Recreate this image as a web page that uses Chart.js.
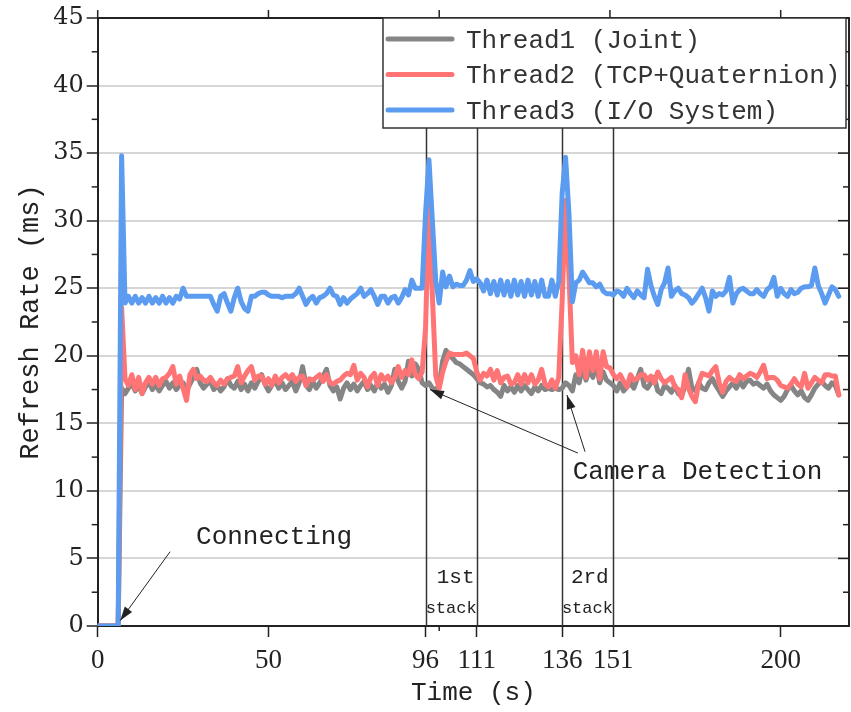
<!DOCTYPE html>
<html><head><meta charset="utf-8">
<script src="https://cdn.jsdelivr.net/npm/chart.js@4.4.1/dist/chart.umd.min.js"></script>
<style>html,body{margin:0;padding:0;background:#fff}canvas{display:block}</style>
</head><body>
<canvas id="c" width="851" height="712"></canvas>
<script>
// ---- data ----
const seriesNames = ['Thread1 (Joint)', 'Thread2 (TCP+Quaternion)', 'Thread3 (I/O System)'];
const xTickValues = [0, 50, 96, 111, 136, 151, 200];
const yTickValues = [0, 5, 10, 15, 20, 25, 30, 35, 40, 45];
const stackLines = [96, 111, 136, 151];

const thread1 = [
 0,0,0,0,0,0,0,17.6,17.2,17.6,
 18.0,17.4,17.8,17.2,17.7,18.1,17.5,17.9,17.4,17.8,
 18.1,17.6,18.0,17.5,17.8,18.0,17.4,17.9,18.4,19.0,
 18.0,17.6,17.9,18.1,17.5,17.8,17.4,17.7,18.3,17.8,
 17.6,18.1,17.5,17.9,17.4,18.0,17.6,18.1,18.6,17.9,
 17.4,17.8,18.2,17.6,18.0,17.5,17.8,18.1,17.4,18.0,
 19.2,17.8,17.5,18.1,17.6,18.0,18.5,19.0,17.8,17.4,
 17.7,16.8,17.6,18.0,17.5,17.9,17.4,17.8,18.1,17.5,
 17.8,17.4,18.0,17.6,17.9,17.3,17.8,19.0,18.1,17.6,
 18.1,19.6,18.5,19.4,19.0,18.0,17.8,18.0,17.6,17.5,
 17.8,19.6,20.4,20.0,19.8,19.5,19.4,19.2,19.0,18.8,
 18.6,18.3,18.0,17.9,17.7,17.8,17.5,17.3,17.0,17.8,
 17.4,17.7,17.3,17.8,17.4,17.8,17.5,17.2,17.7,17.4,
 17.8,17.5,17.6,17.5,17.6,17.5,17.6,18.0,17.8,17.4,
 18.6,18.0,19.2,18.2,19.0,18.4,19.5,18.0,18.8,18.2,
 18.0,17.8,17.4,18.0,17.4,17.7,18.0,17.6,18.3,19.0,
 17.8,17.6,18.0,18.4,17.4,17.2,17.8,17.6,17.3,17.8,
 17.2,17.0,17.8,19.0,17.6,17.4,18.0,17.6,17.5,18.0,
 18.3,17.8,17.4,17.0,17.4,17.7,18.0,17.6,18.1,17.7,
 18.1,18.2,17.9,18.0,17.8,17.6,17.9,17.4,17.1,16.9,
 16.7,17.0,17.5,17.8,17.4,17.1,17.4,16.9,16.7,17.1,
 17.6,17.9,18.1,17.8,17.6,18.0,17.8,17.1
];
const thread2 = [
 0,0,0,0,0,0,0,23.6,18.3,17.8,
 18.6,17.5,18.4,17.2,18.0,18.4,17.9,18.4,17.8,18.3,
 18.4,18.7,19.2,17.9,18.5,17.6,16.7,18.6,19.0,18.3,
 18.5,18.2,18.1,18.4,18.0,17.8,18.2,17.9,18.3,18.4,
 18.5,19.2,18.0,18.5,18.9,19.2,18.2,18.5,18.5,17.9,
 18.3,17.8,18.5,18.0,18.4,18.6,18.3,18.6,18.1,18.4,
 18.5,17.8,18.3,18.2,18.4,18.6,18.1,18.6,18.0,17.9,
 18.1,18.2,18.5,18.7,18.6,19.3,18.2,18.7,18.4,17.7,
 18.4,18.7,17.8,18.6,18.2,18.5,18.0,18.4,19.2,18.4,
 18.9,18.6,19.7,18.6,18.3,18.8,22.0,31.3,24.5,18.5,
 17.6,18.8,19.6,20.2,20.1,20.1,20.1,20.1,20.2,20.0,
 19.8,18.8,18.2,18.7,18.5,19.0,18.2,18.9,18.0,18.4,
 18.5,17.9,18.0,18.6,17.9,18.6,18.0,18.6,17.9,18.2,
 19.0,17.9,17.7,18.2,17.6,18.4,24.0,31.5,26.0,19.5,
 20.0,18.6,20.4,18.4,20.3,18.9,20.3,18.3,20.3,19.2,
 19.1,18.6,18.3,18.6,18.1,17.7,18.6,18.2,18.3,18.6,
 18.6,18.2,18.5,18.0,18.8,18.3,18.0,18.2,18.4,17.7,
 17.5,16.9,18.6,17.6,17.0,16.6,18.0,18.7,18.6,18.5,
 18.9,19.2,18.0,17.3,18.1,18.4,18.2,18.1,18.6,18.3,
 18.5,18.7,18.6,18.4,18.8,19.3,18.3,18.4,18.4,18.2,
 17.8,17.7,17.6,17.9,18.3,17.9,17.7,18.7,17.6,18.0,
 18.4,18.2,18.0,18.6,18.6,18.5,18.5,17.1
];
const thread3 = [
 0,0,0,0,0,0,0,34.8,23.9,24.4,
 23.9,24.4,23.9,24.3,23.9,24.4,23.9,24.3,23.9,24.4,
 23.9,24.3,23.9,24.4,24.2,25.0,24.4,24.4,24.4,24.4,
 24.4,24.4,24.4,24.4,23.8,23.3,24.4,24.6,23.9,23.3,
 24.3,25.0,24.0,23.5,23.3,24.4,24.4,24.6,24.7,24.7,
 24.5,24.4,24.4,24.4,24.3,24.4,24.4,24.4,24.6,25.0,
 24.4,23.8,24.2,24.4,23.9,24.3,24.4,24.6,25.0,24.5,
 24.4,23.8,24.3,23.9,24.2,24.4,24.6,25.0,24.4,24.6,
 24.9,24.4,23.8,24.4,24.4,23.9,24.3,24.4,23.9,24.3,
 24.9,24.5,25.6,25.0,25.0,25.0,30.5,34.5,30.0,25.5,
 23.9,26.2,25.1,25.9,25.1,25.3,25.2,25.2,25.6,26.3,
 25.5,25.7,25.4,24.8,25.6,24.6,25.5,24.5,25.6,24.5,
 25.5,24.4,25.6,24.5,25.5,24.4,25.6,24.5,25.5,24.4,
 25.6,24.4,24.4,25.6,24.4,25.5,32.0,34.7,30.5,24.0,
 25.4,25.6,26.2,25.8,25.4,25.4,25.1,25.3,24.8,24.6,
 24.6,24.5,24.8,24.7,24.4,25.0,24.6,24.3,24.8,24.5,
 24.3,26.4,25.2,24.4,23.8,24.9,25.4,26.5,24.4,24.8,
 25.0,24.6,24.5,24.3,23.9,24.2,24.6,25.0,24.3,23.3,
 24.8,24.4,24.6,24.5,24.8,25.8,23.9,24.6,24.9,25.0,
 24.8,24.6,24.6,24.9,24.6,24.4,24.9,25.1,25.8,24.4,
 25.0,24.6,24.4,24.9,24.6,24.7,25.0,25.1,25.1,25.2,
 26.5,25.2,24.6,23.9,24.5,25.1,24.9,24.4
];
const seriesColors = ['#858585', '#ff7474', '#5b9cf0'];

// time axis (one sample per second)
const timeSec = thread1.map((_, i) => i);
const toPoints = arr => arr.map((v, i) => ({x: timeSec[i], y: v}));

const INK = '#222';
const MONO = '"Liberation Mono", "DejaVu Sans Mono", monospace';

function arrow(ctx, x1, y1, x2, y2) {
  ctx.beginPath(); ctx.moveTo(x1, y1); ctx.lineTo(x2, y2); ctx.stroke();
  const a = Math.atan2(y2 - y1, x2 - x1), L = 14, W = 4.5;
  ctx.beginPath();
  ctx.moveTo(x2, y2);
  ctx.lineTo(x2 - L*Math.cos(a) + W*Math.sin(a), y2 - L*Math.sin(a) - W*Math.cos(a));
  ctx.lineTo(x2 - L*Math.cos(a) - W*Math.sin(a), y2 - L*Math.sin(a) + W*Math.cos(a));
  ctx.closePath(); ctx.fill();
}

const decor = {
  id: 'decor',
  beforeDatasetsDraw(chart) {
    const {ctx, chartArea: a, scales: {x}} = chart;
    ctx.save();
    ctx.strokeStyle = '#333'; ctx.lineWidth = 1.5;
    stackLines.forEach(v => {
      const px = Math.round(x.getPixelForValue(v)) + 0.5;
      ctx.beginPath(); ctx.moveTo(px, a.top); ctx.lineTo(px, a.bottom); ctx.stroke();
    });
    ctx.restore();
  },
  afterDatasetsDraw(chart) {
    const {ctx, chartArea: a, scales: {x, y}} = chart;
    ctx.save();
    // frame top + right
    ctx.strokeStyle = INK; ctx.lineWidth = 2;
    ctx.beginPath(); ctx.moveTo(a.left, a.top); ctx.lineTo(a.right, a.top); ctx.lineTo(a.right, a.bottom); ctx.stroke();
    // minor / mirrored ticks
    ctx.lineWidth = 1.5;
    for (let v = 2.5; v < 45; v += 5) {
      const py = y.getPixelForValue(v);
      ctx.beginPath(); ctx.moveTo(a.left - 6, py); ctx.lineTo(a.left, py); ctx.stroke();
      ctx.beginPath(); ctx.moveTo(a.right - 6, py); ctx.lineTo(a.right, py); ctx.stroke();
    }
    yTickValues.forEach(v => {
      const py = y.getPixelForValue(v);
      ctx.beginPath(); ctx.moveTo(a.right - 11, py); ctx.lineTo(a.right, py); ctx.stroke();
    });
    [0, 50, 100, 150, 200].forEach(v => {
      const px = x.getPixelForValue(v);
      ctx.beginPath(); ctx.moveTo(px, a.top - 8); ctx.lineTo(px, a.top); ctx.stroke();
    });
    { const px = x.getPixelForValue(100);
      ctx.beginPath(); ctx.moveTo(px, a.bottom); ctx.lineTo(px, a.bottom + 5); ctx.stroke(); }

    // legend box
    const lx = 383, ly = a.top, lw = a.right - 3 - lx, lh = 110;
    ctx.fillStyle = '#fff'; ctx.fillRect(lx, ly, lw, lh);
    ctx.strokeStyle = '#333'; ctx.lineWidth = 1.5; ctx.strokeRect(lx, ly, lw, lh);
    ctx.font = '26px ' + MONO; ctx.textBaseline = 'middle'; ctx.textAlign = 'left';
    chart.data.datasets.forEach((ds, i) => {
      const cy = ly + 21 + i * 35.5;
      ctx.strokeStyle = ds.borderColor; ctx.lineWidth = 5; ctx.lineCap = 'round';
      ctx.beginPath(); ctx.moveTo(lx + 5, cy); ctx.lineTo(lx + 69, cy); ctx.stroke();
      ctx.fillStyle = '#333'; ctx.fillText(ds.label, lx + 83, cy + 2);
    });
    ctx.lineCap = 'butt';

    // annotations
    ctx.fillStyle = INK; ctx.strokeStyle = INK; ctx.lineWidth = 1;
    ctx.font = '26px ' + MONO; ctx.textAlign = 'left';
    ctx.fillText('Connecting', x.getPixelForValue(28.8), y.getPixelForValue(6.6));
    ctx.fillText('Camera Detection', x.getPixelForValue(139.1), y.getPixelForValue(11.4));
    arrow(ctx, x.getPixelForValue(21.2), y.getPixelForValue(5.5), x.getPixelForValue(6.6), y.getPixelForValue(0.4));
    arrow(ctx, x.getPixelForValue(140.6), y.getPixelForValue(12.8), x.getPixelForValue(97.3), y.getPixelForValue(17.5));
    arrow(ctx, x.getPixelForValue(142.7), y.getPixelForValue(12.9), x.getPixelForValue(137.4), y.getPixelForValue(17.1));
    ctx.textAlign = 'center';
    ctx.font = '21px ' + MONO;
    ctx.fillText('1st', x.getPixelForValue(104.8), y.getPixelForValue(3.6));
    ctx.fillText('2rd', x.getPixelForValue(144.1), y.getPixelForValue(3.6));
    ctx.font = '17px ' + MONO;
    ctx.fillText('stack', x.getPixelForValue(103.5), y.getPixelForValue(1.3));
    ctx.fillText('stack', x.getPixelForValue(143.4), y.getPixelForValue(1.3));
    ctx.restore();
  }
};

new Chart(document.getElementById('c'), {
  type: 'line',
  data: {
    datasets: [thread1, thread2, thread3].map((arr, i) => ({
      label: seriesNames[i],
      data: toPoints(arr),
      borderColor: seriesColors[i],
      backgroundColor: seriesColors[i],
      borderWidth: 5,
      pointRadius: 0,
      tension: 0,
      fill: false,
      borderJoinStyle: 'round',
      borderCapStyle: 'round',
      order: 3 - i
    }))
  },
  options: {
    responsive: false,
    animation: false,
    events: [],
    layout: {padding: {top: 18, right: 2, left: 0, bottom: 0}},
    plugins: {legend: {display: false}, tooltip: {enabled: false}},
    scales: {
      x: {
        type: 'linear', min: 0, max: 220,
        afterBuildTicks: s => { s.ticks = xTickValues.map(v => ({value: v})); },
        afterFit: s => { s.height = 86; },
        grid: {drawOnChartArea: false, drawTicks: true, tickLength: 11, tickColor: INK, tickWidth: 1.5},
        border: {display: true, color: INK, width: 2},
        ticks: {font: {family: '"Liberation Serif", serif', size: 27}, color: INK, padding: 8, autoSkip: false, maxRotation: 0, callback: v => String(v)},
        title: {display: true, text: 'Time (s)', font: {family: MONO, size: 26}, color: INK, padding: {top: 0, bottom: 3}}
      },
      y: {
        min: 0, max: 45,
        afterBuildTicks: s => { s.ticks = yTickValues.map(v => ({value: v})); },
        afterFit: s => { s.width = 97.7; },
        grid: {color: '#d6d6d6', lineWidth: 2, drawTicks: true, tickLength: 11, tickColor: INK, tickWidth: 1.5},
        border: {display: true, color: INK, width: 2},
        ticks: {font: {family: '"DejaVu Serif", serif', size: 24}, color: INK, padding: 3},
        title: {display: true, text: 'Refresh Rate (ms)', font: {family: MONO, size: 27}, color: INK, padding: {top: 15, bottom: 0}}
      }
    }
  },
  plugins: [decor]
});
</script>
</body></html>
